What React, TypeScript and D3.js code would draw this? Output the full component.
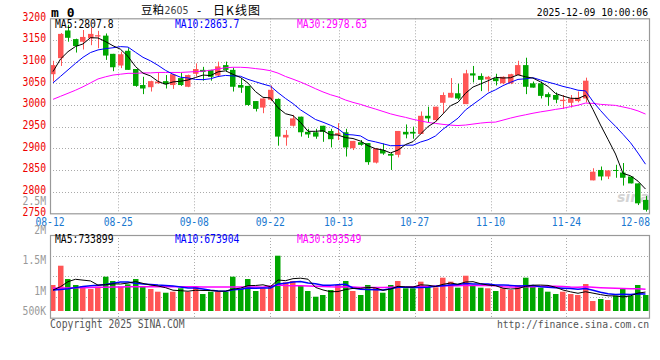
import React from "react";
import * as d3 from "d3";

// ---------- DATA ----------
const openP = [3071,3108,3172,3152,3146,3154,3158,3160,3118,3091,3125,3083,3046,3041,3050,3055,3046,3062,3042,3072,3081,3081,3068,3092,3081,3046,3044,3009,2994,3012,3014,2925,2952,2973,2938,2937,2952,2940,2931,2937,2900,2914,2912,2867,2896,2887,2885,2938,2938,2933,2975,2965,3005,3017,3027,3002,3073,3067,3059,3062,3050,3050,3069,3092,3050,3050,3025,3023,3009,3005,3009,3015,2826,2850,2835,2850,2844,2835,2819,2781];
const closeP = [3092,3164,3155,3136,3157,3164,3161,3114,3087,3117,3081,3044,3038,3055,3054,3048,3071,3046,3069,3083,3076,3065,3089,3081,3042,3040,3000,2991,3015,3035,2927,2931,2969,2937,2932,2927,2938,2921,2935,2902,2917,2908,2868,2900,2888,2883,2940,2932,2934,2975,2969,2996,3023,3028,3015,3073,3068,3058,3065,3055,3065,3071,3092,3042,3040,3021,3018,3012,3012,3015,3017,3056,2846,2835,2849,2848,2832,2819,2773,2758];
const highP = [3102,3166,3185,3153,3173,3179,3171,3165,3118,3123,3131,3083,3065,3056,3074,3069,3072,3074,3070,3096,3088,3081,3100,3100,3086,3062,3044,3009,3015,3045,3015,2942,2977,2973,2945,2945,2952,2945,2958,2945,2917,2919,2912,2900,2911,2889,2940,2955,2950,2985,2996,2996,3029,3062,3049,3081,3090,3073,3067,3072,3066,3072,3102,3109,3054,3054,3029,3029,3023,3023,3031,3063,2854,2858,2849,2862,2866,2835,2819,2790];
const lowP = [3054,3090,3146,3121,3128,3138,3131,3104,3078,3085,3081,3042,3025,3031,3049,3038,3037,3044,3041,3066,3056,3056,3065,3077,3031,3028,2998,2985,2981,3009,2906,2906,2950,2927,2924,2922,2915,2902,2919,2881,2896,2906,2862,2865,2885,2850,2879,2923,2922,2933,2960,2962,2981,3017,3012,3002,3052,3032,3031,3045,3048,3048,3069,3025,3040,3015,2998,3004,2991,2994,3006,3006,2826,2826,2829,2832,2814,2819,2769,2754];
const volume = [1093,1407,1190,1093,1077,1028,1065,1228,1158,1065,1104,1190,1077,1028,984,967,984,1039,984,1065,946,984,984,984,1228,1028,1190,995,1039,1077,1570,1136,1158,1077,995,902,930,1011,1093,1158,995,930,1093,1049,967,1093,1158,1039,1039,1147,1065,1055,1212,1147,1049,1244,1082,1049,1039,995,1039,1011,1093,1212,1093,1049,984,946,984,946,930,1109,832,865,848,919,1028,919,1093,930].map(v => v * 1000);

// moving-average values before enough in-window data exist
const ma5Lead = [3077, 3106, 3123, 3135];
const ma10Lead = [3051, 3066, 3081, 3096, 3110, 3121, 3127, 3130, 3132];
const ma30Lead = [3013,3020,3027,3034,3042,3051,3060,3065,3069,3071,3073,3073,3074,3074,3075,3075,3075,3075,3076,3077,3078,3080,3083,3086,3087,3087,3086,3084,3082];
const vma5Lead = [1011000, 1065000, 1147000, 1186000];
const vma10Lead = [1011000, 1020000, 1030000, 1050000, 1070000, 1080000, 1090000, 1100000, 1120000];
const vma30Lead = [1040000,1042000,1045000,1048000,1050000,1052000,1055000,1058000,1060000,1062000,1064000,1065000,1066000,1066000,1066000,1065000,1065000,1064000,1064000,1063000,1062000,1062000,1061000,1061000,1060000,1060000,1060000,1059000,1058000];

const dateLabels = ["08-12","08-25","09-08","09-22","10-13","10-27","11-10","11-24","12-08"];
const dateIndex = [0,9,19,29,38,48,58,68,78];
const priceTicks = [3200,3150,3100,3050,3000,2950,2900,2850,2800,2750];
const volTickLabels = ["2M","1.5M","1M","500K"];
const volTickValues = [2000000,1500000,1000000,500000];
const priceLegend = ["MA5:2807.8","MA10:2863.7","MA30:2978.63"];
const volLegend = ["MA5:733899","MA10:673904","MA30:893549"];
const legendColors = ["#000000","#0000ff","#ff00ff"];

// ---------- LAYOUT ----------
const W = 660, H = 360;
const L = 50, R = 650;
const pTop = 18.3, pBot = 213.3;
const vTop = 235, vBot = 317.7, vBase = 311;
const RED = "#ff5555", GREEN = "#00a600";
const MONO = "'DejaVu Sans Mono', 'Liberation Mono', monospace";
const CJK = "'Noto Sans CJK SC', sans-serif";
const CH = 5.85;

function movingAvg(vals: number[], n: number, lead: number[]) {
  return vals.map((_, i) => (i < n - 1 ? lead[i] : (d3.mean(vals.slice(i - n + 1, i + 1)) as number)));
}

// monospace text squeezed to the reference's narrow character cell; anchor handled manually
function MonoText(props: any) {
  const { text, x, y, color, anchor, size } = props;
  const w = text.length * CH;
  const x0 = anchor === "end" ? x - w : anchor === "middle" ? x - w / 2 : x;
  return (
    <text x={x0} y={y} fill={color} fontFamily={MONO} fontSize={size || 12}
      dominantBaseline="central" textLength={w} lengthAdjust="spacingAndGlyphs">{text}</text>
  );
}

export default function App() {
  const idx = d3.range(closeP.length);
  const xb = d3.scaleBand<number>().domain(idx).range([L, R]);
  const xp = d3.scalePoint<number>().domain(idx).range([L, R]);
  const cx = (i: number) => (xb(i) as number) + 3;
  const y = d3.scaleLinear().domain([2750, 3200]).range([pBot, pTop]);
  const yv = d3.scaleLinear().domain([500000, 2000000]).range([321.4, 229.3]);

  const ma5 = movingAvg(closeP, 5, ma5Lead);
  const ma10 = movingAvg(closeP, 10, ma10Lead);
  const ma30 = movingAvg(closeP, 30, ma30Lead);
  const vma5 = movingAvg(volume, 5, vma5Lead);
  const vma10 = movingAvg(volume, 10, vma10Lead);
  const vma30 = movingAvg(volume, 30, vma30Lead);

  const lineP = d3.line<number>().x((_, i) => cx(i)).y(d => y(d));
  const lineV = d3.line<number>().x((_, i) => cx(i)).y(d => yv(d));

  const gridX = dateIndex.filter(i => (xp(i) as number) > L + 2 && (xp(i) as number) < R - 10);
  const volGridY = [1, 2, 3].map(k => vTop + (vBot - vTop) * k / 4);

  return (
    <svg width={W} height={H} style={{ position: "absolute", left: 0, top: 0, background: "#fff" }}>
      <rect width={W} height={H} fill="#fff" />
      {/* title */}
      <text x={51} y={12} fontFamily={MONO} fontWeight="bold" fontSize={13} dominantBaseline="central">m 0</text>
      <text x={141} y={9} fontFamily={CJK} fontSize={11.5} dominantBaseline="central">豆粕</text>
      <text x={164.5} y={9.5} fontFamily="'DejaVu Sans', sans-serif" fontSize={10.5} fill="#444"
        dominantBaseline="central" textLength={24} lengthAdjust="spacingAndGlyphs">2605</text>
      <text x={197} y={9} fontFamily={CJK} fontSize={12} dominantBaseline="central">-</text>
      <text x={213} y={9} fontFamily={CJK} fontSize={12} dominantBaseline="central"
        textLength={47} lengthAdjust="spacing">日K线图</text>
      <MonoText text="2025-12-09 10:00:06" x={648} y={12} color="#000" anchor="end" size={10.2} />

      {/* main grid */}
      {priceTicks.slice(1, -1).map(t => (
        <line key={"h" + t} x1={L} x2={R} y1={Math.round(y(t)) + 0.5} y2={Math.round(y(t)) + 0.5}
          stroke="#aaa" strokeDasharray="1 2" />
      ))}
      {gridX.map(i => (
        <g key={"v" + i}>
          <line x1={Math.round(xp(i) as number) + 0.5} x2={Math.round(xp(i) as number) + 0.5} y1={pTop} y2={pBot}
            stroke="#aaa" strokeDasharray="1 2" />
          <line x1={Math.round(xp(i) as number) + 0.5} x2={Math.round(xp(i) as number) + 0.5} y1={vTop} y2={vBot}
            stroke="#aaa" strokeDasharray="1 2" />
        </g>
      ))}
      {volGridY.map(g => (
        <line key={"vg" + g} x1={L} x2={R} y1={Math.round(g) + 0.5} y2={Math.round(g) + 0.5} stroke="#aaa" strokeDasharray="1 2" />
      ))}

      {/* watermark */}
      <text x={617} y={202} fontFamily="'DejaVu Sans', sans-serif" fontStyle="italic" fontWeight="bold" fontSize={14}
        fill="#d4d4d4">sina</text>

      {/* candles */}
      {idx.map(i => {
        const up = closeP[i] >= openP[i];
        const col = up ? RED : GREEN;
        const top = y(Math.max(openP[i], closeP[i]));
        const bot = y(Math.min(openP[i], closeP[i]));
        const wx = Math.round(cx(i)) + 0.5;
        return (
          <g key={"c" + i}>
            <line x1={wx} x2={wx} y1={y(highP[i])} y2={y(lowP[i])} stroke={col} strokeWidth={1} />
            <rect x={Math.round(xb(i) as number)} y={top} width={5.5} height={Math.max(1, bot - top)} fill={col} />
          </g>
        );
      })}

      {/* MA lines */}
      <path d={lineP(ma30) || ""} fill="none" stroke="#ff00ff" strokeWidth={1} />
      <path d={lineP(ma10) || ""} fill="none" stroke="#0000ff" strokeWidth={1} />
      <path d={lineP(ma5) || ""} fill="none" stroke="#000" strokeWidth={1} />

      {/* volume bars */}
      {idx.map(i => {
        const col = closeP[i] >= openP[i] ? RED : GREEN;
        const t = yv(volume[i]);
        return <rect key={"vb" + i} x={Math.round(xb(i) as number)} y={t} width={5.5} height={vBase - t} fill={col} />;
      })}
      <path d={lineV(vma30) || ""} fill="none" stroke="#ff00ff" strokeWidth={1.5} />
      <path d={lineV(vma10) || ""} fill="none" stroke="#0000ff" strokeWidth={1.5} />
      <path d={lineV(vma5) || ""} fill="none" stroke="#000" strokeWidth={1} />

      {/* frames */}
      <rect x={L + 0.5} y={pTop + 0.5} width={R - L - 1} height={pBot - pTop} fill="none" stroke="#999" strokeWidth={1.2} />
      <rect x={L + 0.5} y={vTop + 0.5} width={R - L - 1} height={vBot - vTop} fill="none" stroke="#999" strokeWidth={1.2} />

      {/* price axis */}
      {priceTicks.map(t => (
        <MonoText key={"pt" + t} text={String(t)} x={46} y={y(t) - 1.5} color="#ee0000" anchor="end" />
      ))}
      <MonoText text="2.5M" x={46} y={201} color="#999" anchor="end" />
      {/* date labels */}
      {dateIndex.map((di, k) => {
        const half = dateLabels[k].length * CH / 2;
        const px = Math.min(xp(di) as number, R - half);
        return <MonoText key={"d" + k} text={dateLabels[k]} x={px} y={221.5} color="#1a78d0" anchor="middle" />;
      })}
      {/* volume axis */}
      {volTickValues.map((v, k) => (
        <MonoText key={"vt" + k} text={volTickLabels[k]} x={46} y={Math.min(yv(v), vBase) + (k === 0 ? 1 : 0)} color="#999" anchor="end" />
      ))}

      {/* legends */}
      {priceLegend.map((t, k) => (
        <MonoText key={"pl" + k} text={t} x={[55, 175, 297][k]} y={24} color={legendColors[k]} />
      ))}
      {volLegend.map((t, k) => (
        <MonoText key={"vl" + k} text={t} x={[55, 175, 297][k]} y={238.5} color={legendColors[k]} />
      ))}

      <MonoText text="Copyright 2025 SINA.COM" x={50} y={324} color="#555" />
      <MonoText text="http://finance.sina.com.cn" x={649} y={324} color="#555" anchor="end" size={10.2} />
    </svg>
  );
}
